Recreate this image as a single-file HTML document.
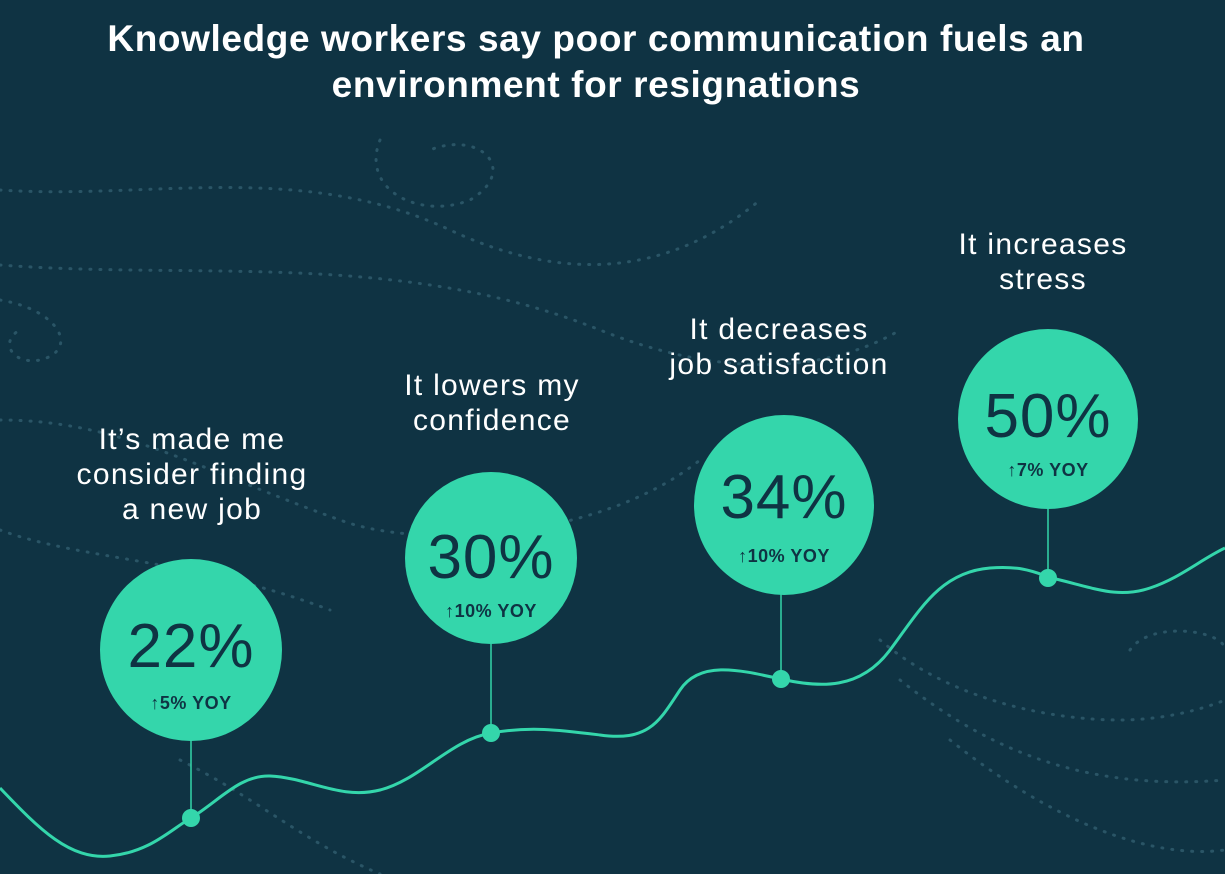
<!DOCTYPE html>
<html><head><meta charset="utf-8"><style>
html,body{margin:0;padding:0}
body{width:1225px;height:874px;background:#0f3343;position:relative;overflow:hidden;font-family:"Liberation Sans",sans-serif}
h1{position:absolute;top:16px;left:0;width:1192px;text-align:center;margin:0;color:#fff;font-size:37px;font-weight:bold;line-height:46px;letter-spacing:0.6px}
.lab{position:absolute;color:#fff;font-size:30px;line-height:35px;text-align:center;width:340px;letter-spacing:1.3px}
.c{position:absolute;border-radius:50%;background:#34d6ab;color:#0f3343;text-align:center}
.c .p{font-size:62px;line-height:66px;position:absolute;width:100%;left:0;letter-spacing:1px}
.c .y{font-size:18px;font-weight:bold;position:absolute;width:100%;left:0;letter-spacing:0.5px}
</style></head><body>
<svg width="1225" height="874" style="position:absolute;left:0;top:0">
<g fill="none" stroke="#2a5566" stroke-width="3" stroke-dasharray="1 9" stroke-linecap="round">
<path d="M0 190 C150 200 300 160 450 230 C600 300 700 250 760 200"/>
<path d="M0 265 C200 280 400 250 600 330 C750 390 850 360 900 330"/>
<path d="M380 140 C360 190 420 220 470 200 C520 170 480 130 430 150"/>
<path d="M0 300 C60 310 80 350 40 360 C10 365 0 340 20 330"/>
<path d="M0 420 C120 420 200 470 340 520 C420 550 600 540 700 460"/>
<path d="M880 640 C950 700 1050 720 1120 720 C1180 720 1225 700 1225 700"/>
<path d="M900 680 C1000 760 1100 790 1225 780"/>
<path d="M950 740 C1050 820 1150 860 1225 850"/>
<path d="M1130 650 C1150 620 1225 630 1225 650"/>
<path d="M0 530 C80 560 200 560 330 610"/>
<path d="M180 760 C260 800 300 840 380 874"/>
</g>
<path d="M0 788 C40 830 70 860 110 856 C150 852 170 830 191 818 C220 800 240 775 270 776 C310 778 340 800 380 790 C420 780 450 740 491 733 C530 726 560 730 600 735 C650 742 660 720 680 690 C700 660 740 670 781 679 C820 688 860 690 890 650 C920 610 940 572 990 568 C1030 565 1040 576 1060 580 C1100 590 1120 598 1150 588 C1180 578 1200 560 1225 548" fill="none" stroke="#34d6ab" stroke-width="3"/>
<g stroke="#34d6ab" stroke-width="1.5">
<line x1="191" y1="740" x2="191" y2="818"/><line x1="491" y1="644" x2="491" y2="733"/>
<line x1="781" y1="594" x2="781" y2="679"/><line x1="1048" y1="507" x2="1048" y2="578"/>
</g>
<g fill="#34d6ab"><circle cx="191" cy="818" r="9"/><circle cx="491" cy="733" r="9"/><circle cx="781" cy="679" r="9"/><circle cx="1048" cy="578" r="9"/></g>
</svg>
<h1>Knowledge workers say poor communication fuels an<br>environment for resignations</h1>
<div class="lab" style="left:22px;top:422px">It’s made me<br>consider finding<br>a new job</div>
<div class="lab" style="left:322px;top:368px">It lowers my<br>confidence</div>
<div class="lab" style="left:609px;top:312px">It decreases<br>job satisfaction</div>
<div class="lab" style="left:873px;top:227px">It increases<br>stress</div>
<div class="c" style="left:100px;top:559px;width:182px;height:182px"><div class="p" style="top:55px">22%</div><div class="y" style="top:134px">↑5% YOY</div></div>
<div class="c" style="left:405px;top:472px;width:172px;height:172px"><div class="p" style="top:53px">30%</div><div class="y" style="top:129px">↑10% YOY</div></div>
<div class="c" style="left:694px;top:415px;width:180px;height:180px"><div class="p" style="top:50px">34%</div><div class="y" style="top:131px">↑10% YOY</div></div>
<div class="c" style="left:958px;top:329px;width:180px;height:180px"><div class="p" style="top:55px">50%</div><div class="y" style="top:131px">↑7% YOY</div></div>
</body></html>
